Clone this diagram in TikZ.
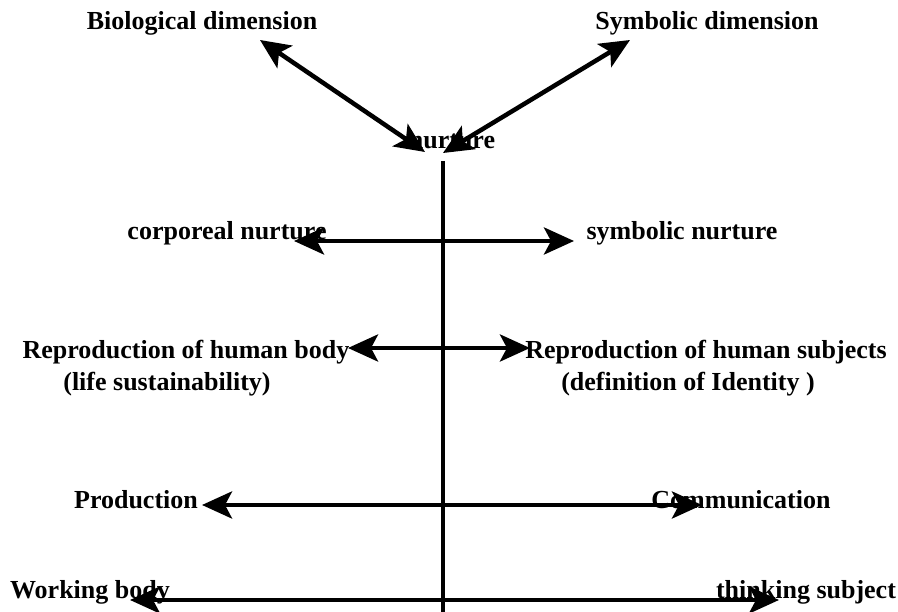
\documentclass[tikz,border=0pt]{standalone}
\usepackage{fontspec}
\setmainfont{Liberation Serif}
\usetikzlibrary{arrows.meta}
\begin{document}
\begin{tikzpicture}[x=1pt,y=-1pt,
  lbl/.style={anchor=base,inner sep=0pt,font=\fontsize{26}{30}\selectfont\bfseries},
  tip/.style={Stealth[length=30pt,width=27pt,inset=7pt]},
  dbl/.style={line width=4.5pt,{Stealth[length=30pt,width=27pt,inset=7pt]}-{Stealth[length=30pt,width=27pt,inset=7pt]}},
  axis/.style={line width=4.5pt}]
\useasboundingbox (0,0) rectangle (898,612);

% labels
\node[lbl] (bio)  at (202,30)  {Biological dimension};
\node[lbl] (sym)  at (707,30)  {Symbolic dimension};
\node[lbl] (nur)  at (452,149) {nurture};
\node[lbl] (corp) at (227,240) {corporeal nurture};
\node[lbl] (symn) at (682,240) {symbolic nurture};
\node[lbl] (body) at (186,359) {Reproduction of human body};
\node[lbl] (life) at (167,391) {(life sustainability)};
\node[lbl] (subj) at (706,359) {Reproduction of human subjects};
\node[lbl] (iden) at (688,391) {(definition of Identity )};
\node[lbl] (prod) at (136,509) {Production};
\node[lbl] (comm) at (741,509) {Communication};
\node[lbl] (work) at (90,598)  {Working body};
\node[lbl] (think) at (806,598) {thinking subject};

% arrow end points
\coordinate (bioE)  at (260,40);
\coordinate (symE)  at (630,40);
\coordinate (nurL)  at (425,152);
\coordinate (nurR)  at (443,153);
\coordinate (axT)   at (443,161);
\coordinate (axB)   at (443,612);
\coordinate (r2L) at (294,241); \coordinate (r2R) at (574,241);
\coordinate (r3L) at (348,348); \coordinate (r3R) at (530,348);
\coordinate (r4L) at (202,505); \coordinate (r4R) at (702,505);
\coordinate (r5L) at (130,600); \coordinate (r5R) at (779,600);

% vertical axis
\draw[axis] (axT) -- (axB);

% double-headed arrows
\draw[dbl] (bioE) -- (nurL);
\draw[dbl] (symE) -- (nurR);
\draw[dbl] (r2L) -- (r2R);
\draw[dbl] (r3L) -- (r3R);
\draw[dbl] (r4L) -- (r4R);
\draw[dbl] (r5L) -- (r5R);
\end{tikzpicture}
\end{document}
